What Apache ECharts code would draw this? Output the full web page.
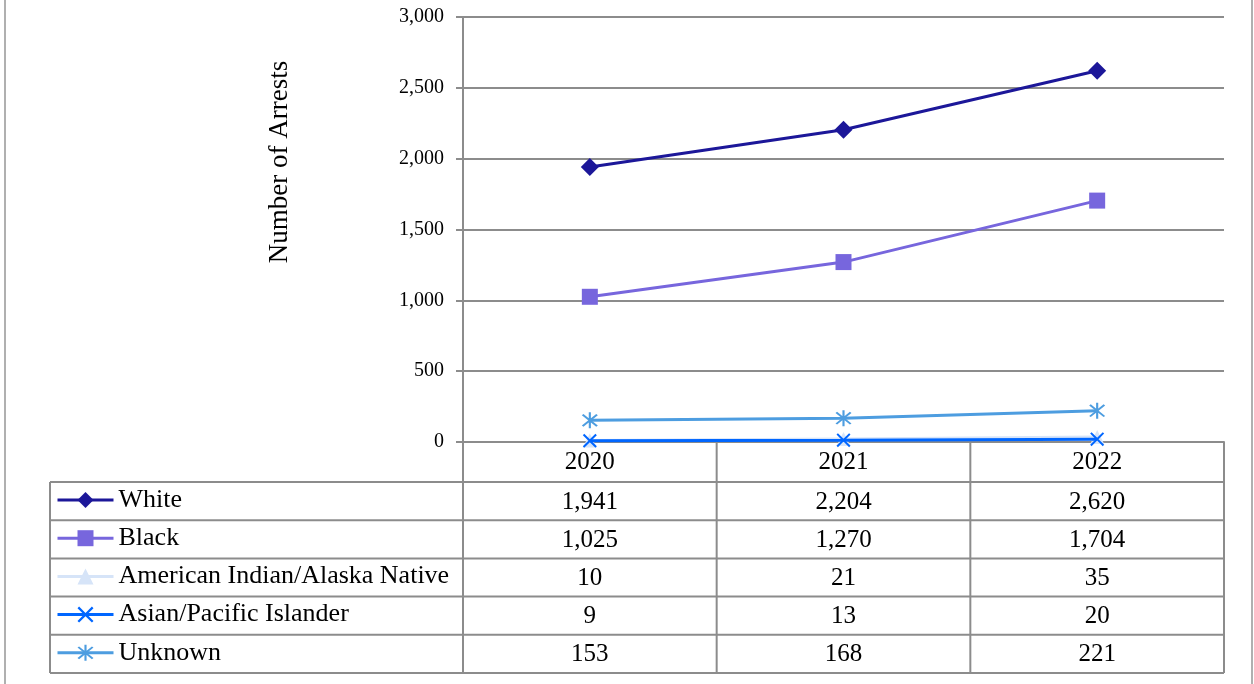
<!DOCTYPE html>
<html>
<head>
<meta charset="utf-8">
<script src="https://cdn.jsdelivr.net/npm/echarts@6/dist/echarts.min.js"></script>
<style>
  html, body { margin: 0; padding: 0; background: #fff; }
  #chart { width: 1254px; height: 684px; }
</style>
</head>
<body>
<div id="chart"></div>
<script>
  // data
  const years = ['2020', '2021', '2022'];
  const seriesNames = ['White', 'Black', 'American Indian/Alaska Native', 'Asian/Pacific Islander', 'Unknown'];
  const white = [1941, 2204, 2620];
  const black = [1025, 1270, 1704];
  const amIndian = [10, 21, 35];
  const asian = [9, 13, 20];
  const unknown = [153, 168, 221];
  const yTicks = [0, 500, 1000, 1500, 2000, 2500, 3000];

  const colors = ['#1c1799', '#7766dd', '#d6e4f8', '#0066ff', '#4d9de0'];
  const crossPath = 'path://M2,0L10,8L18,0L20,2L12,10L20,18L18,20L10,12L2,20L0,18L8,10L0,2Z';
  const starPath = 'path://M9,0L11,0L11,20L9,20Z M2.5,3.5L4,2L17.5,16.5L16,18Z M16,2L17.5,3.5L4,18L2.5,16.5Z';
  const symbols = ['diamond', 'rect', 'triangle', crossPath, starPath];
  const symbolSizes = [18, 16, 14, 14, 16];
  const allValues = [white, black, amIndian, asian, unknown];

  // layout
  const gLeft = 463, gRight = 1224, gTop = 17, gBottom = 442;
  const tableLeft = 50, headerH = 40, rowH = 38.2;
  const font = '"Liberation Serif", "Times New Roman", serif';
  const gray = '#8c8c8c';

  const fmt = v => v.toLocaleString('en-US');
  const catW = (gRight - gLeft) / years.length;

  let graphics = [];
  // table lines
  for (let i = 0; i <= seriesNames.length; i++) {
    let y = gBottom + headerH + i * rowH;
    graphics.push({ type: 'line', shape: { x1: tableLeft, y1: y, x2: gRight, y2: y }, style: { stroke: gray, lineWidth: 2 } });
  }
  let tableBottom = gBottom + headerH + seriesNames.length * rowH;
  graphics.push({ type: 'line', shape: { x1: tableLeft, y1: gBottom + headerH, x2: tableLeft, y2: tableBottom }, style: { stroke: gray, lineWidth: 2 } });
  for (let j = 0; j <= years.length; j++) {
    let x = gLeft + j * catW;
    graphics.push({ type: 'line', shape: { x1: x, y1: gBottom, x2: x, y2: tableBottom }, style: { stroke: gray, lineWidth: 2 } });
  }
  // table values
  allValues.forEach((vals, i) => {
    vals.forEach((v, j) => {
      graphics.push({
        type: 'text', x: gLeft + (j + 0.5) * catW, y: gBottom + headerH + (i + 0.5) * rowH + 1,
        style: { text: fmt(v), font: '25px ' + font, fill: '#000', align: 'center', verticalAlign: 'middle' }
      });
    });
  });
  // y axis title
  graphics.push({
    type: 'text', x: 280, y: 162, rotation: Math.PI / 2,
    style: { text: 'Number of Arrests', font: '27px ' + font, fill: '#000', align: 'center', verticalAlign: 'middle' }
  });
  // outer frame
  graphics.push({ type: 'line', shape: { x1: 5, y1: 0, x2: 5, y2: 684 }, style: { stroke: '#b0b0b0', lineWidth: 2 } });
  graphics.push({ type: 'line', shape: { x1: 1252, y1: 0, x2: 1252, y2: 684 }, style: { stroke: '#b0b0b0', lineWidth: 2 } });

  let chart = echarts.init(document.getElementById('chart'));
  chart.setOption({
    animation: false,
    color: colors,
    legend: {
      orient: 'vertical',
      left: 56,
      top: gBottom + headerH + 5,
      padding: 0,
      itemWidth: 56,
      itemHeight: 20,
      itemGap: rowH - 26,
      lineStyle: { width: 3 },
      textStyle: { fontFamily: font, fontSize: 26, color: '#000', lineHeight: 26 },
      data: seriesNames
    },
    grid: { left: gLeft, right: 1254 - gRight, top: gTop, bottom: 684 - gBottom },
    xAxis: {
      type: 'category',
      data: years,
      axisLine: { lineStyle: { color: gray, width: 2 } },
      axisTick: { show: false },
      axisLabel: { fontFamily: font, fontSize: 25, color: '#000', margin: 8 }
    },
    yAxis: {
      type: 'value',
      min: 0,
      max: 3000,
      interval: 500,
      axisLine: { show: true, lineStyle: { color: gray, width: 2 } },
      axisTick: { show: true, length: 7, lineStyle: { color: gray, width: 2 } },
      splitLine: { lineStyle: { color: gray, width: 2 } },
      axisLabel: {
        fontFamily: font, fontSize: 20, color: '#000', margin: 19,
        formatter: v => yTicks.includes(v) ? fmt(v) : ''
      }
    },
    series: seriesNames.map((name, i) => ({
      name: name,
      type: 'line',
      data: allValues[i],
      symbol: symbols[i],
      symbolSize: symbolSizes[i],
      lineStyle: { width: 3, color: colors[i] },
      itemStyle: { color: colors[i] },
      z: i === 2 ? 2 : 3
    })),
    graphic: graphics
  });
</script>
</body>
</html>
